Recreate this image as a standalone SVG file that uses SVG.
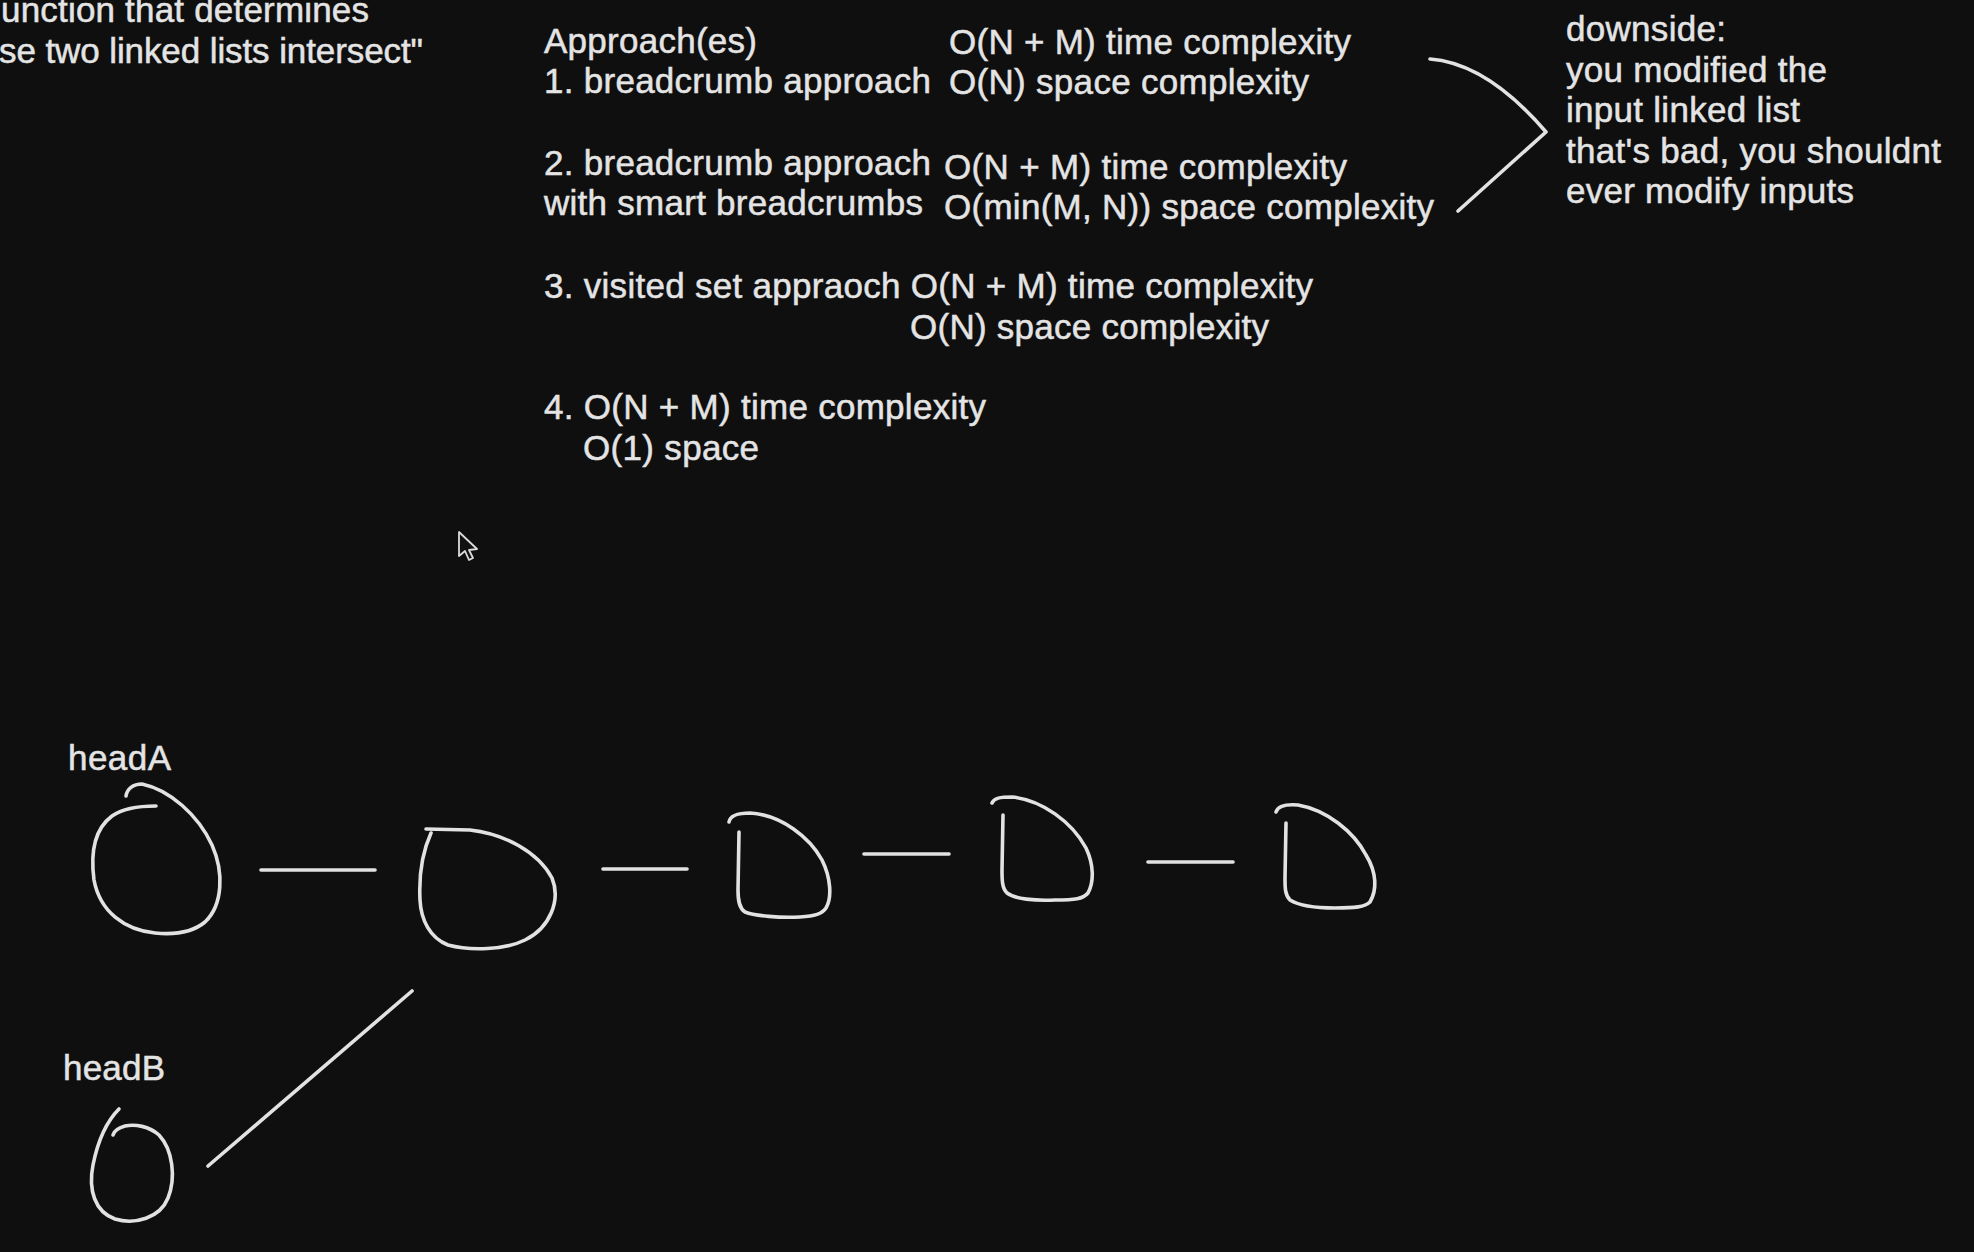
<svg xmlns="http://www.w3.org/2000/svg" width="1974" height="1252" viewBox="0 0 1974 1252">
<style>
  .t { font-family: "Liberation Sans", Arial, Helvetica, sans-serif; font-size: 35px; fill: #e4e4e4; stroke: #e4e4e4; stroke-width: 0.5; }
  .ink { fill: none; stroke: #e2e2e2; stroke-width: 3.6; stroke-linecap: round; stroke-linejoin: round; }
</style>
<rect x="0" y="0" width="1974" height="1252" fill="#0f0f0f"/>

<g id="problem-text">
  <text class="t" x="1" y="22" textLength="368" lengthAdjust="spacing">unction that determines</text>
  <text class="t" x="-1" y="63" textLength="424" lengthAdjust="spacing">se two linked lists intersect"</text>
</g>

<g id="approaches">
  <text class="t" x="544" y="53" textLength="213" lengthAdjust="spacing">Approach(es)</text>
  <text class="t" x="544" y="93" textLength="387" lengthAdjust="spacing">1. breadcrumb approach</text>
  <text class="t" x="949" y="54" textLength="402" lengthAdjust="spacing">O(N + M) time complexity</text>
  <text class="t" x="949" y="94" textLength="360" lengthAdjust="spacing">O(N) space complexity</text>
  <text class="t" x="544" y="175" textLength="387" lengthAdjust="spacing">2. breadcrumb approach</text>
  <text class="t" x="544" y="215" textLength="379" lengthAdjust="spacing">with smart breadcrumbs</text>
  <text class="t" x="944" y="179" textLength="403" lengthAdjust="spacing">O(N + M) time complexity</text>
  <text class="t" x="944" y="219" textLength="490" lengthAdjust="spacing">O(min(M, N)) space complexity</text>
  <text class="t" x="544" y="298" textLength="769" lengthAdjust="spacing">3. visited set appraoch O(N + M) time complexity</text>
  <text class="t" x="910" y="339" textLength="359" lengthAdjust="spacing">O(N) space complexity</text>
  <text class="t" x="544" y="419" textLength="442" lengthAdjust="spacing">4. O(N + M) time complexity</text>
  <text class="t" x="583" y="460" textLength="176" lengthAdjust="spacing">O(1) space</text>
</g>

<g id="downside-note">
  <text class="t" x="1566" y="41" textLength="160" lengthAdjust="spacing">downside:</text>
  <text class="t" x="1566" y="82" textLength="261" lengthAdjust="spacing">you modified the</text>
  <text class="t" x="1566" y="122" textLength="234" lengthAdjust="spacing">input linked list</text>
  <text class="t" x="1566" y="163" textLength="375" lengthAdjust="spacing">that's bad, you shouldnt</text>
  <text class="t" x="1566" y="203" textLength="288" lengthAdjust="spacing">ever modify inputs</text>
</g>

<g id="bracket">
  <path class="ink" d="M1430,59 C1470,62 1510,90 1546,132 L1458,211"/>
</g>

<g id="cursor">
  <path d="M459,532 L459,556 L465,551 L469,560 L473,558 L469,550 L477,549 Z" fill="#111" stroke="#dcdcdc" stroke-width="1.8" stroke-linejoin="round"/>
</g>

<g id="headA">
  <text class="t" x="68" y="770" textLength="103" lengthAdjust="spacing">headA</text>
  <path class="ink" d="M126,796 C127,789 133,784 142,784 C170,790 198,815 212,845 C224,872 223,905 205,922 C193,932 175,935 155,933 C125,930 100,912 94,880 C90,850 96,828 112,816 C122,809 140,806 156,806"/>
</g>

<g id="node2">
  <path class="ink" d="M426,829 L470,830 C505,834 538,852 552,878 C561,900 550,928 525,940 C505,950 470,951 448,945 C430,938 421,920 420,900 C419,880 421,855 431,833"/>
</g>

<g id="node3">
  <path class="ink" d="M729,822 C730,816 736,813 750,813 C782,815 810,838 822,860 C831,878 832,898 826,908 C822,914 815,916 800,917 C780,918 755,916 745,912 C739,908 738,900 738,890 L739,832"/>
</g>

<g id="node4">
  <path class="ink" d="M992,803 C994,798 1000,797 1012,797 C1042,800 1072,822 1086,848 C1094,865 1094,882 1088,893 C1083,899 1075,900 1055,900 C1035,901 1015,899 1007,893 C1002,888 1002,880 1002,870 L1003,815"/>
</g>

<g id="node5">
  <path class="ink" d="M1276,812 C1278,806 1285,804 1298,805 C1327,810 1354,832 1366,855 C1377,873 1377,890 1370,902 C1365,907 1355,908 1335,908 C1315,908 1298,905 1290,900 C1285,895 1285,888 1285,878 L1286,823"/>
</g>

<g id="headB">
  <text class="t" x="63" y="1080" textLength="102" lengthAdjust="spacing">headB</text>
  <path class="ink" d="M119,1109 C108,1120 98,1140 93,1165 C88,1190 95,1212 115,1219 C135,1225 160,1218 168,1198 C176,1178 173,1150 159,1135 C149,1126 135,1124 125,1126 C118,1128 114,1131 113,1135"/>
</g>

<g id="connectors">
  <line class="ink" x1="261" y1="870" x2="375" y2="870"/>
  <line class="ink" x1="603" y1="869" x2="687" y2="869"/>
  <line class="ink" x1="864" y1="854" x2="949" y2="854"/>
  <line class="ink" x1="1148" y1="862" x2="1233" y2="862"/>
  <line class="ink" x1="208" y1="1166" x2="412" y2="991"/>
</g>
</svg>
